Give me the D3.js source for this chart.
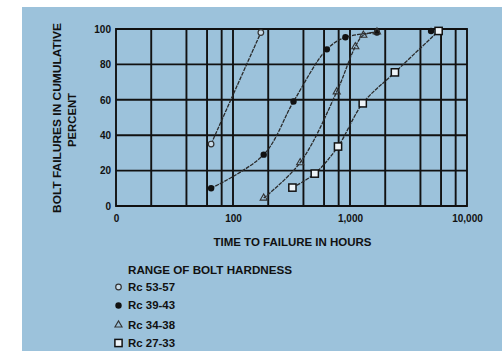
<!DOCTYPE html>
<html>
<head>
<meta charset="utf-8">
<script src="https://cdn.jsdelivr.net/npm/d3@7/dist/d3.min.js"></script>
<style>
  html, body { margin: 0; padding: 0; background: #ffffff; }
  svg { display: block; }
  text { font-family: "Liberation Sans", Arial, sans-serif; font-weight: bold; fill: #111; }
</style>
</head>
<body>
<svg id="chart" width="502" height="351"></svg>
<script>
// ---- data ----
const seriesNames = ["Rc 53-57", "Rc 39-43", "Rc 34-38", "Rc 27-33"];
const seriesShapes = ["openCircle", "dot", "triangle", "square"];
const s1Hours = [65, 173];
const s1Pct   = [35, 98];
const s2Hours = [65, 183, 329, 634, 914, 1700];
const s2Pct   = [10, 29, 59, 88.5, 95.3, 98];
const s3Hours = [183, 375, 770, 1110, 1300, 1700];
const s3Pct   = [4.5, 24.5, 64.5, 90, 96.5, 98.3];
const s4Hours = [322, 500, 790, 1285, 2420, 5720];
const s4Pct   = [10.4, 18.3, 33.6, 58, 75.5, 98.9];
const extraDotHours = [4930];
const extraDotPct   = [98.9];
const xTickValues = [10, 100, 1000, 10000];
const xTickLabels = ["0", "100", "1,000", "10,000"];
const xGridValues = [20, 40, 60, 80, 100, 200, 400, 600, 800, 1000, 2000, 4000, 6000, 8000];
const yTickValues = [0, 20, 40, 60, 80, 100];
const yTickLabels = ["0", "20", "40", "60", "80", "100"];
const xTitle = "TIME TO FAILURE IN HOURS";
const yTitle1 = "BOLT FAILURES IN CUMULATIVE";
const yTitle2 = "PERCENT";
const legendTitle = "RANGE OF BOLT HARDNESS";

const series = [
  { name: seriesNames[0], shape: seriesShapes[0], pts: s1Hours.map((h, i) => [h, s1Pct[i]]) },
  { name: seriesNames[1], shape: seriesShapes[1], pts: s2Hours.map((h, i) => [h, s2Pct[i]]) },
  { name: seriesNames[2], shape: seriesShapes[2], pts: s3Hours.map((h, i) => [h, s3Pct[i]]) },
  { name: seriesNames[3], shape: seriesShapes[3], pts: s4Hours.map((h, i) => [h, s4Pct[i]]) }
];

// ---- layout ----
const svg = d3.select("#chart");
const plot = { left: 116, right: 467, top: 29, bottom: 206 };

svg.append("rect").attr("x", 22).attr("y", 7).attr("width", 480).attr("height", 344)
  .attr("fill", "#9cc2db");

const x = d3.scaleLog().domain([10, 10000]).range([plot.left, plot.right]);
const y = d3.scaleLinear().domain([0, 100]).range([plot.bottom, plot.top]);

const grid = svg.append("g").attr("stroke", "#111").attr("stroke-width", 1.9).attr("fill", "none");
grid.selectAll("line.vx").data(xGridValues).join("line")
  .attr("x1", d => x(d)).attr("x2", d => x(d))
  .attr("y1", plot.top).attr("y2", plot.bottom);
grid.selectAll("line.hy").data(yTickValues).join("line")
  .attr("x1", plot.left).attr("x2", plot.right)
  .attr("y1", d => y(d)).attr("y2", d => y(d));
grid.append("rect").attr("x", plot.left).attr("y", plot.top)
  .attr("width", plot.right - plot.left).attr("height", plot.bottom - plot.top);

// axes (labels only, via d3 axis)
const xAxis = d3.axisBottom(x).tickValues(xTickValues)
  .tickFormat((d, i) => xTickLabels[i]).tickSize(0).tickPadding(9);
const gx = svg.append("g").attr("transform", `translate(0,${plot.bottom})`).call(xAxis);
gx.select(".domain").remove();
gx.selectAll("text").style("font-size", "10px").style("font-family", "Liberation Sans, Arial, sans-serif")
  .style("font-weight", "bold").attr("fill", "#111");

const yAxis = d3.axisLeft(y).tickValues(yTickValues)
  .tickFormat((d, i) => yTickLabels[i]).tickSize(0).tickPadding(5);
const gy = svg.append("g").attr("transform", `translate(${plot.left},0)`).call(yAxis);
gy.select(".domain").remove();
gy.selectAll("text").style("font-size", "10px").style("font-family", "Liberation Sans, Arial, sans-serif")
  .style("font-weight", "bold").attr("fill", "#111");

// curves
const line = d3.line().x(d => x(d[0])).y(d => y(d[1])).curve(d3.curveCatmullRom.alpha(0.5));
const curves = svg.append("g");
series.forEach(s => {
  curves.append("path").attr("d", line(s.pts)).attr("fill", "none")
    .attr("stroke", "#2a2a2a").attr("stroke-width", 1.3).attr("stroke-dasharray", "4,1");
});

// markers
function drawMarker(g, shape, cx, cy) {
  if (shape === "openCircle") {
    g.append("circle").attr("cx", cx).attr("cy", cy).attr("r", 2.8)
      .attr("fill", "#c8dcea").attr("stroke", "#333").attr("stroke-width", 1.2);
  } else if (shape === "dot") {
    g.append("circle").attr("cx", cx).attr("cy", cy).attr("r", 3.2).attr("fill", "#111");
  } else if (shape === "triangle") {
    g.append("path").attr("d", d3.symbol(d3.symbolTriangle, 22)())
      .attr("transform", `translate(${cx},${cy})`)
      .attr("fill", "none").attr("stroke", "#333").attr("stroke-width", 1.1);
  } else if (shape === "square") {
    g.append("rect").attr("x", cx - 3.6).attr("y", cy - 3.6).attr("width", 7.2).attr("height", 7.2)
      .attr("fill", "#eef4f8").attr("stroke", "#111").attr("stroke-width", 1.5);
  }
}
const marks = svg.append("g");
series.forEach(s => s.pts.forEach(p => drawMarker(marks, s.shape, x(p[0]), y(p[1]))));
extraDotHours.forEach((h, i) => drawMarker(marks, "dot", x(h), y(extraDotPct[i])));

// titles
svg.append("text").attr("x", 292.5).attr("y", 246).attr("text-anchor", "middle")
  .style("font-size", "10px").attr("textLength", 158).attr("lengthAdjust", "spacingAndGlyphs").text(xTitle);
svg.append("text").attr("transform", "translate(61,118) rotate(-90)").attr("text-anchor", "middle")
  .style("font-size", "10px").attr("textLength", 190).attr("lengthAdjust", "spacingAndGlyphs").text(yTitle1);
svg.append("text").attr("transform", "translate(76,120) rotate(-90)").attr("text-anchor", "middle")
  .style("font-size", "10px").attr("textLength", 54).attr("lengthAdjust", "spacingAndGlyphs").text(yTitle2);

// legend
svg.append("text").attr("x", 128).attr("y", 274).style("font-size", "10px")
  .attr("textLength", 164).attr("lengthAdjust", "spacingAndGlyphs").text(legendTitle);
const legendY = [287, 305.5, 325, 343];
const lg = svg.append("g");
series.forEach((s, i) => {
  drawMarker(lg, s.shape, 118.5, legendY[i]);
  lg.append("text").attr("x", 128).attr("y", legendY[i] + 3.5).style("font-size", "10px")
    .attr("textLength", 47).attr("lengthAdjust", "spacingAndGlyphs").text(s.name);
});
</script>
</body>
</html>
